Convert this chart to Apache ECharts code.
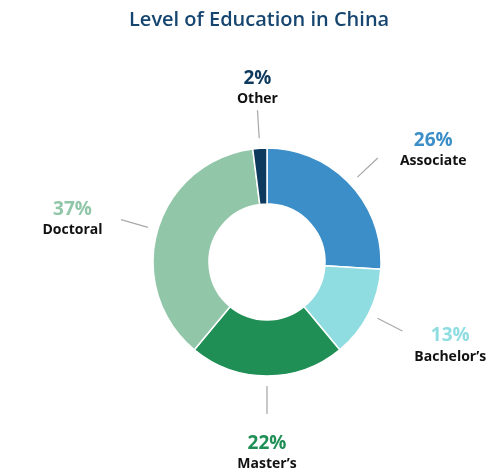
<!DOCTYPE html>
<html>
<head>
<meta charset="utf-8">
<script src="https://cdn.jsdelivr.net/npm/echarts@6/dist/echarts.min.js"></script>
<style>
html,body{margin:0;padding:0;background:#fff;}
#chart{width:492px;height:472px;}
</style>
</head>
<body>
<div id="chart"></div>
<script>
const categories = ["Associate", "Bachelor\u2019s", "Master\u2019s", "Doctoral", "Other"];
const values = [26, 13, 22, 37, 2];
const colors = ["#3b8ec8", "#8fdde1", "#1f8f55", "#91c6a8", "#0e3a5e"];
const titleText = "Level of Education in China";

const FONT = "'Open Sans', 'DejaVu Sans', sans-serif";

function richFor(c) {
  return {
    p: { color: c, fontSize: 19, fontWeight: 'bold', fontFamily: FONT, lineHeight: 23, align: 'center' },
    n: { color: '#111', fontSize: 14, fontWeight: 'bold', fontFamily: FONT, lineHeight: 18, align: 'center' }
  };
}

const mainData = categories.map((name, i) => ({
  name: name, value: values[i], itemStyle: { color: colors[i] }
}));
const labelData = categories.map((name, i) => ({
  name: name, value: values[i],
  label: { rich: richFor(colors[i]) }
}));

const chart = echarts.init(document.getElementById('chart'), null, { renderer: 'canvas' });
chart.setOption({
  animation: false,
  backgroundColor: '#fff',
  title: {
    text: titleText, left: 124, top: 5,
    textStyle: { fontFamily: FONT, fontSize: 20, fontWeight: 600, color: '#164670' }
  },
  series: [
    {
      type: 'pie', center: [267, 262], radius: [58, 114],
      startAngle: 90, clockwise: true, silent: true,
      avoidLabelOverlap: false,
      label: { show: false }, labelLine: { show: false },
      itemStyle: { borderColor: '#fff', borderWidth: 1.5 },
      data: mainData
    },
    {
      type: 'pie', center: [267, 262], radius: [0, 124],
      startAngle: 90, clockwise: true, silent: true,
      avoidLabelOverlap: false,
      itemStyle: { color: 'rgba(0,0,0,0)' },
      label: {
        show: true, position: 'outside',
        formatter: p => '{p|' + p.value + '%}\n{n|' + p.name + '}'
      },
      labelLine: { show: true, length: 28, length2: 0, lineStyle: { color: '#aaaaaa', width: 1.3 } },
      labelLayout: function (params) {
        const pts = params.labelLinePoints;
        if (!pts) return {};
        const S = pts[0], E = pts[pts.length - 1];
        let dx = E[0] - S[0], dy = E[1] - S[1];
        const len = Math.sqrt(dx * dx + dy * dy) || 1;
        dx /= len; dy /= len;
        const w = params.labelRect.width, h = params.labelRect.height;
        let x, y;
        if (Math.abs(dx) < 0.35) {
          x = E[0];
          y = E[1] + (dy < 0 ? -(4 + h / 2) : (20 + h / 2));
        } else {
          x = E[0] + Math.sign(dx) * (16 - dy * 9 + w / 2);
          y = E[1] + dy * 20 + 5;
        }
        return { x: x, y: y, align: 'center', verticalAlign: 'middle', labelLinePoints: pts };
      },
      data: labelData
    }
  ]
});
</script>
</body>
</html>
